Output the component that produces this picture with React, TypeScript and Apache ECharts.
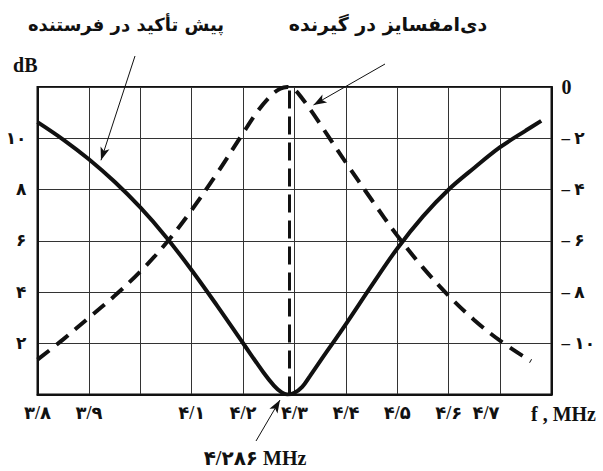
import React, { useEffect, useRef } from "react";
import * as echarts from "echarts";

// Frequency tick labels (MHz) along the bottom, 3.8 … 4.8 in steps of 0.1
const xTickLabels = ["۳/۸", "۳/۹", "", "۴/۱", "۴/۲", "۴/۳", "۴/۴", "۴/۵", "۴/۶", "۴/۷", "f , MHz"];
// Left axis (pre-emphasis gain, dB), 0 … 12 in steps of 2
const leftTickLabels = ["", "۲", "۴", "۶", "۸", "۱۰", ""];
// Right axis (de-emphasis attenuation, dB), 0 … -12 in steps of 2
const rightTickLabels = ["0", "– ۲", "– ۴", "– ۶", "– ۸", "– ۱۰", ""];

// Transmitter pre-emphasis curve (left axis)
const preEmphFreq = [3.8, 3.85, 3.9, 3.95, 4.0, 4.05, 4.1, 4.15, 4.2, 4.24, 4.26, 4.275, 4.286, 4.3, 4.315, 4.33, 4.35, 4.4, 4.45, 4.5, 4.55, 4.6, 4.65, 4.7, 4.75, 4.78];
const preEmphDb = [10.63, 9.95, 9.18, 8.3, 7.3, 6.15, 4.85, 3.45, 2.0, 0.85, 0.35, 0.08, 0.0, 0.07, 0.3, 0.72, 1.3, 2.75, 4.25, 5.7, 6.95, 8.0, 8.85, 9.65, 10.3, 10.68];

// Receiver de-emphasis curve (right axis)
const deEmphFreq = [3.8, 3.85, 3.9, 3.95, 4.0, 4.05, 4.1, 4.15, 4.2, 4.23, 4.255, 4.272, 4.286, 4.3, 4.315, 4.335, 4.35, 4.4, 4.45, 4.5, 4.55, 4.6, 4.65, 4.7, 4.76];
const deEmphDb = [-10.64, -9.85, -9.0, -8.15, -7.2, -6.1, -4.8, -3.35, -1.8, -0.9, -0.32, -0.07, 0.0, -0.1, -0.45, -1.0, -1.45, -2.95, -4.4, -5.8, -7.05, -8.15, -9.1, -9.9, -10.7];

// Centre frequency of the channel
const centerFreq = 4.286;
const centerLabel = "۴/۲۸۶ MHz";
const preEmphTitle = "پیش تأکید در فرستنده";
const deEmphTitle = "دی‌امفسایز در گیرنده";

const FONT = "'Liberation Serif', 'DejaVu Sans', serif";
const FA_FONT = "'DejaVu Sans', sans-serif";
const INK = "#111";

export default function App() {
  const ref = useRef<HTMLDivElement>(null);

  useEffect(() => {
    if (!ref.current) return;
    const chart = echarts.init(ref.current, undefined, { renderer: "svg" });

    const pre = preEmphFreq.map((f, i) => [f, preEmphDb[i]]);
    const de = deEmphFreq.map((f, i) => [f, deEmphDb[i]]);

    const arrowStyle = { color: INK, width: 1, type: "solid" as const };
    const labelFont = { color: INK, fontFamily: FONT, fontWeight: "bold" as const };

    chart.setOption({
      animation: false,
      backgroundColor: "#fff",
      grid: {
        left: 37.5,
        right: 51.5,
        top: 87,
        bottom: 76.5,
        show: true,
        borderColor: INK,
        borderWidth: 2,
        backgroundColor: "transparent",
      },
      xAxis: {
        type: "value",
        min: 3.8,
        max: 4.8,
        interval: 0.1,
        axisLine: { show: true, lineStyle: { color: INK, width: 2 } },
        axisTick: { show: false },
        splitLine: { show: true, lineStyle: { color: "#333", width: 1 } },
        axisLabel: {
          margin: 9,
          ...labelFont,
          fontSize: 18,
          formatter: (v: number) => {
            const i = Math.round(v * 10) - 38;
            const t = xTickLabels[i] ?? "";
            if (i === 9) return `{l|${t}}`;
            if (i === 10) return `{u|${t}}`;
            return t;
          },
          rich: {
            l: { ...labelFont, fontSize: 18, padding: [0, 28, 0, 0] },
            u: { ...labelFont, fontSize: 20, padding: [0, 0, 0, 24] },
          },
        },
      },
      yAxis: [
        {
          type: "value",
          min: 0,
          max: 12,
          interval: 2,
          name: "dB",
          nameLocation: "end",
          nameGap: 12,
          nameTextStyle: {
            ...labelFont,
            fontSize: 20,
            align: "right",
            verticalAlign: "bottom",
          },
          axisLine: { show: true, lineStyle: { color: INK, width: 2 } },
          axisTick: { show: false },
          splitLine: { show: true, lineStyle: { color: "#333", width: 1 } },
          axisLabel: {
            margin: 11,
            ...labelFont,
            fontSize: 17,
            formatter: (v: number) => leftTickLabels[Math.round(v / 2)] ?? "",
          },
        },
        {
          type: "value",
          min: -12,
          max: 0,
          interval: 2,
          position: "right",
          axisLine: { show: true, lineStyle: { color: INK, width: 2 } },
          axisTick: { show: false },
          splitLine: { show: false },
          axisLabel: {
            margin: 10,
            ...labelFont,
            fontSize: 17,
            formatter: (v: number) => {
              const t = rightTickLabels[Math.round(-v / 2)] ?? "";
              return v === 0 ? `{z|${t}}` : t;
            },
            rich: { z: { ...labelFont, fontSize: 20 } },
          },
        },
      ],
      series: [
        {
          name: "pre-emphasis",
          type: "line",
          yAxisIndex: 0,
          data: pre,
          smooth: 0.35,
          showSymbol: false,
          symbol: "none",
          lineStyle: { color: INK, width: 4 },
          markLine: {
            silent: true,
            symbol: ["none", "none"],
            label: { show: false },
            emphasis: { disabled: true },
            data: [
              {
                xAxis: centerFreq,
                lineStyle: { color: INK, width: 3, type: [18, 8] },
              },
              [
                { x: 135, y: 56, symbol: "none", lineStyle: arrowStyle },
                { coord: [3.9235, 9.14], symbol: "arrow", symbolSize: [7, 13], lineStyle: arrowStyle },
              ],
              [
                { x: 256, y: 441, symbol: "none", lineStyle: arrowStyle },
                { x: 280, y: 400, symbol: "arrow", symbolSize: [7, 13], lineStyle: arrowStyle },
              ],
            ],
          },
        },
        {
          name: "de-emphasis",
          type: "line",
          yAxisIndex: 1,
          data: de,
          smooth: 0.35,
          showSymbol: false,
          symbol: "none",
          lineStyle: { color: INK, width: 4, type: [15, 9] },
          markLine: {
            silent: true,
            symbol: ["none", "none"],
            label: { show: false },
            emphasis: { disabled: true },
            data: [
              [
                { x: 385, y: 64, symbol: "none", lineStyle: arrowStyle },
                { coord: [4.337, -0.7], symbol: "arrow", symbolSize: [7, 13], lineStyle: arrowStyle },
              ],
            ],
          },
        },
      ],
      graphic: [
        {
          type: "text",
          x: 126,
          y: 24,
          style: {
            text: preEmphTitle,
            fill: INK,
            font: `bold 18px ${FA_FONT}`,
            textAlign: "center",
            textVerticalAlign: "middle",
          },
        },
        {
          type: "text",
          x: 388,
          y: 24,
          style: {
            text: deEmphTitle,
            fill: INK,
            font: `bold 19px ${FA_FONT}`,
            textAlign: "center",
            textVerticalAlign: "middle",
          },
        },
        {
          type: "text",
          x: 255,
          y: 458,
          style: {
            text: centerLabel,
            fill: INK,
            font: `bold 20px ${FONT}`,
            textAlign: "center",
            textVerticalAlign: "middle",
          },
        },
      ],
    });

    return () => chart.dispose();
  }, []);

  return (
    <div
      ref={ref}
      style={{ position: "fixed", left: 0, top: 0, width: 603, height: 471, background: "#fff" }}
    />
  );
}
